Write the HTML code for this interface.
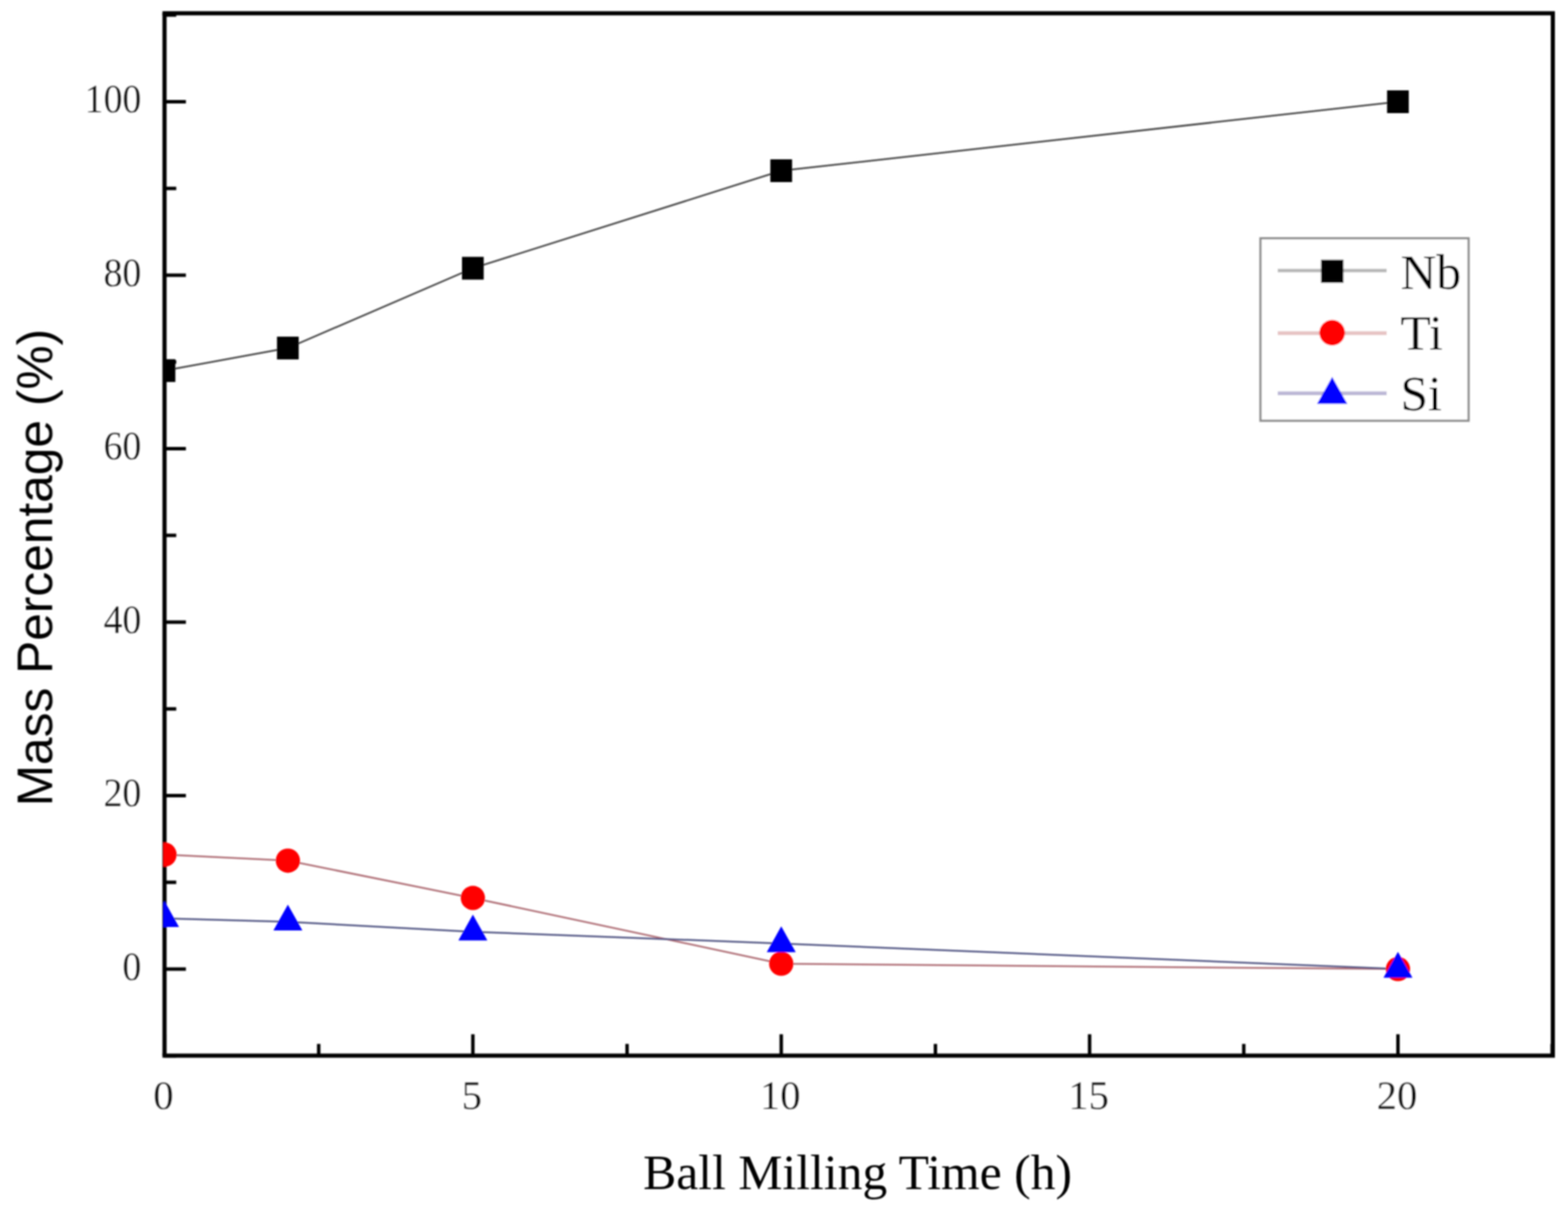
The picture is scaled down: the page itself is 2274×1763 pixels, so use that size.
<!DOCTYPE html><html><head><meta charset="utf-8"><title>Mass Percentage vs Ball Milling Time</title><style>html,body{margin:0;padding:0;background:#fff;}svg{display:block;}.serif{font-family:"Liberation Serif","Times New Roman",serif;}.sans{font-family:"Liberation Sans",Arial,sans-serif;}.tk{stroke:#fff;stroke-width:0.35px;}</style></head><body>
<svg width="2274" height="1763" viewBox="0 0 2274 1763">
<rect x="0" y="0" width="2274" height="1763" fill="#fff"/>
<defs><filter id="bl" x="0" y="0" width="2274" height="1763" filterUnits="userSpaceOnUse"><feGaussianBlur stdDeviation="0.9"/></filter>
<clipPath id="pa"><rect x="237.0" y="19.3" width="2015.0" height="1511.2"/></clipPath></defs>
<g filter="url(#bl)">
<g stroke="#000" stroke-width="6.0" fill="none" stroke-linecap="butt">
<line x1="235.6" y1="19.3" x2="2255.0" y2="19.3"/>
<line x1="235.6" y1="1530.5" x2="2255.0" y2="1530.5"/>
<line x1="238.6" y1="19.3" x2="238.6" y2="1530.5"/>
<line x1="2252.0" y1="19.3" x2="2252.0" y2="1530.5"/>
</g>
<g stroke="#000" stroke-width="5.0" fill="none">
<line x1="238.6" y1="1530.8" x2="255.6" y2="1530.8"/>
<line x1="238.6" y1="1405.0" x2="269.6" y2="1405.0"/>
<line x1="238.6" y1="1279.2" x2="255.6" y2="1279.2"/>
<line x1="238.6" y1="1153.5" x2="269.6" y2="1153.5"/>
<line x1="238.6" y1="1027.8" x2="255.6" y2="1027.8"/>
<line x1="238.6" y1="902.0" x2="269.6" y2="902.0"/>
<line x1="238.6" y1="776.2" x2="255.6" y2="776.2"/>
<line x1="238.6" y1="650.5" x2="269.6" y2="650.5"/>
<line x1="238.6" y1="524.8" x2="255.6" y2="524.8"/>
<line x1="238.6" y1="399.0" x2="269.6" y2="399.0"/>
<line x1="238.6" y1="273.2" x2="255.6" y2="273.2"/>
<line x1="238.6" y1="147.5" x2="269.6" y2="147.5"/>
<line x1="238.6" y1="21.8" x2="255.6" y2="21.8"/>
<line x1="238.6" y1="1530.5" x2="238.6" y2="1499.5"/>
<line x1="462.2" y1="1530.5" x2="462.2" y2="1513.5"/>
<line x1="685.8" y1="1530.5" x2="685.8" y2="1499.5"/>
<line x1="909.4" y1="1530.5" x2="909.4" y2="1513.5"/>
<line x1="1133.0" y1="1530.5" x2="1133.0" y2="1499.5"/>
<line x1="1356.6" y1="1530.5" x2="1356.6" y2="1513.5"/>
<line x1="1580.2" y1="1530.5" x2="1580.2" y2="1499.5"/>
<line x1="1803.8" y1="1530.5" x2="1803.8" y2="1513.5"/>
<line x1="2027.4" y1="1530.5" x2="2027.4" y2="1499.5"/>
<line x1="2251.0" y1="1530.5" x2="2251.0" y2="1513.5"/>
</g>
<g clip-path="url(#pa)">
<polyline points="238.6,537.3 417.5,504.6 685.8,388.9 1133.0,247.5 2027.4,147.5" fill="none" stroke="#444444" stroke-width="2.5"/>
<polyline points="238.6,1239.0 417.5,1247.8 685.8,1301.9 1133.0,1397.2 2027.4,1405.0" fill="none" stroke="#ae6c73" stroke-width="2.5"/>
<polyline points="238.6,1331.4 417.5,1336.5 685.8,1350.9 1133.0,1367.9 2027.4,1405.0" fill="none" stroke="#4f5382" stroke-width="2.5"/>
<rect x="222.8" y="520.8" width="31.5" height="33.0" fill="#000"/>
<rect x="401.7" y="488.1" width="31.5" height="33.0" fill="#000"/>
<rect x="670.0" y="372.4" width="31.5" height="33.0" fill="#000"/>
<rect x="1117.2" y="231.0" width="31.5" height="33.0" fill="#000"/>
<rect x="2011.6" y="131.0" width="31.5" height="33.0" fill="#000"/>
<circle cx="238.6" cy="1239.0" r="17.6" fill="#f00"/>
<circle cx="417.5" cy="1247.8" r="17.6" fill="#f00"/>
<circle cx="685.8" cy="1301.9" r="17.6" fill="#f00"/>
<circle cx="1133.0" cy="1397.2" r="17.6" fill="#f00"/>
<circle cx="2027.4" cy="1405.0" r="17.6" fill="#f00"/>
<polygon points="238.6,1306.4 217.6,1343.9 259.6,1343.9" fill="#00f"/>
<polygon points="417.5,1311.5 396.5,1349.0 438.5,1349.0" fill="#00f"/>
<polygon points="685.8,1325.9 664.8,1363.4 706.8,1363.4" fill="#00f"/>
<polygon points="1133.0,1342.9 1112.0,1380.4 1154.0,1380.4" fill="#00f"/>
<polygon points="2027.4,1380.0 2006.4,1417.5 2048.4,1417.5" fill="#00f"/>
</g>
<text class="serif tk" transform="translate(205,1420.5) scale(0.93,1)" x="0" y="0" font-size="59" text-anchor="end" fill="#000">0</text>
<text class="serif tk" transform="translate(205,1169.0) scale(0.93,1)" x="0" y="0" font-size="59" text-anchor="end" fill="#000">20</text>
<text class="serif tk" transform="translate(205,917.5) scale(0.93,1)" x="0" y="0" font-size="59" text-anchor="end" fill="#000">40</text>
<text class="serif tk" transform="translate(205,666.0) scale(0.93,1)" x="0" y="0" font-size="59" text-anchor="end" fill="#000">60</text>
<text class="serif tk" transform="translate(205,414.5) scale(0.93,1)" x="0" y="0" font-size="59" text-anchor="end" fill="#000">80</text>
<text class="serif tk" transform="translate(205,163.0) scale(0.93,1)" x="0" y="0" font-size="59" text-anchor="end" fill="#000">100</text>
<text class="serif tk" x="237.1" y="1608" font-size="59" text-anchor="middle" fill="#000">0</text>
<text class="serif tk" x="684.3" y="1608" font-size="59" text-anchor="middle" fill="#000">5</text>
<text class="serif tk" x="1131.5" y="1608" font-size="59" text-anchor="middle" fill="#000">10</text>
<text class="serif tk" x="1578.7" y="1608" font-size="59" text-anchor="middle" fill="#000">15</text>
<text class="serif tk" x="2025.9" y="1608" font-size="59" text-anchor="middle" fill="#000">20</text>
<text class="serif" x="1243.7" y="1724" font-size="72" text-anchor="middle" fill="#000">Ball Milling Time (h)</text>
<text class="sans" transform="translate(75.6,823) rotate(-90)" x="0" y="0" font-size="72" text-anchor="middle" fill="#000">Mass Percentage (%)</text>
<rect x="1828" y="345.5" width="301.8" height="264.5" fill="#fff" stroke="#8c8c8c" stroke-width="3.2"/>
<line x1="1853" y1="392.3" x2="2011" y2="392.3" stroke="#b8b8b8" stroke-width="5"/>
<line x1="1853" y1="482.9" x2="2011" y2="482.9" stroke="#e6c3c3" stroke-width="5.5"/>
<line x1="1853" y1="570.3" x2="2011" y2="570.3" stroke="#bcb8d6" stroke-width="5.5"/>
<rect x="1915.8" y="376.6" width="32.5" height="33.5" fill="#000"/>
<circle cx="1932" cy="482.4" r="18.6" fill="#f00"/>
<polygon points="1932.0,546.4 1910.0,585.4 1954.0,585.4" fill="#00f"/>
<text class="serif" x="2031" y="419" font-size="72" fill="#000">Nb</text>
<text class="serif" x="2031" y="507" font-size="72" fill="#000">Ti</text>
<text class="serif" x="2031" y="595" font-size="72" fill="#000">Si</text>
</g>
</svg></body></html>
